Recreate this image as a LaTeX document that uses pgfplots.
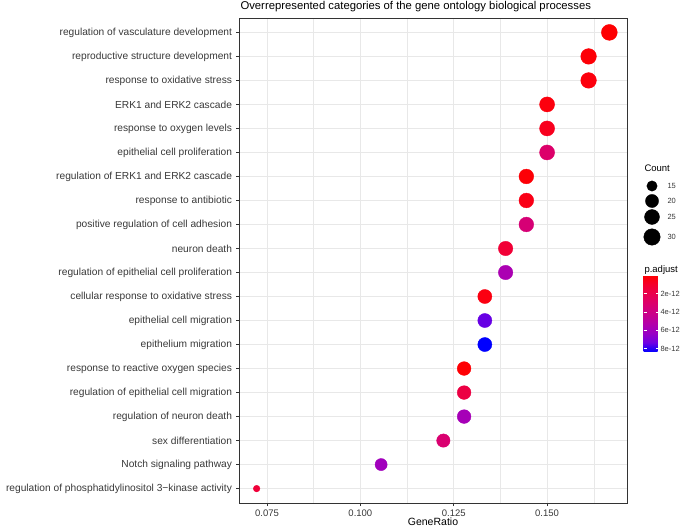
\documentclass[border=0pt]{standalone}
\usepackage{fontspec}
\setmainfont{Liberation Sans}
\usepackage{pgfplots}
\pgfplotsset{compat=1.18}
\usepackage{pgfplotstable}

\definecolor{gridc}{gray}{0.91}
\definecolor{axc}{gray}{0.2}
\definecolor{txt}{gray}{0.22}

\pgfplotstableread{
y ratio count padj
20 0.16667 30 0.05
19 0.16111 29 0.15
18 0.16111 29 0.3
17 0.15000 27 0.3
16 0.15000 27 0.7
15 0.15000 27 3.0
14 0.14444 26 0.15
13 0.14444 26 0.5
12 0.14444 26 3.4
11 0.13889 25 1.3
10 0.13889 25 5.6
9 0.13333 24 0.4
8 0.13333 24 7.4
7 0.13333 24 8.35
6 0.12778 23 0.1
5 0.12778 23 1.7
4 0.12778 23 5.8
3 0.12222 22 3.2
2 0.10556 19 6.0
1 0.07222 13 1.4
}\godata

\pgfplotstableread{
x y count
652 343 15
652 328 20
652 312 25
652 292 30
}\sizeleg

\pgfplotsset{
  colormap={gg}{rgb255=(255,0,0) rgb255=(244,0,45) rgb255=(232,0,80) rgb255=(218,0,110) rgb255=(202,0,137) rgb255=(180,0,168) rgb255=(154,0,195) rgb255=(113,0,226) rgb255=(0,0,255)}
}

\begin{document}
\begin{tikzpicture}
\useasboundingbox (0,0) rectangle (685bp,529bp);
\begin{axis}[
  at={(239bp,26bp)}, anchor=south west,
  scale only axis, width=388bp, height=485bp,
  xmin=0.0675, xmax=0.1714, ymin=0.4, ymax=20.6,
  xtick={0.075,0.1,0.125,0.15},
  xticklabels={0.075,0.100,0.125,0.150},
  minor xtick={0.0875,0.1125,0.1375,0.1625},
  ytick={1,...,20},
  yticklabels={
    regulation of phosphatidylinositol 3−kinase activity,
    Notch signaling pathway,
    sex differentiation,
    regulation of neuron death,
    regulation of epithelial cell migration,
    response to reactive oxygen species,
    epithelium migration,
    epithelial cell migration,
    cellular response to oxidative stress,
    regulation of epithelial cell proliferation,
    neuron death,
    positive regulation of cell adhesion,
    response to antibiotic,
    regulation of ERK1 and ERK2 cascade,
    epithelial cell proliferation,
    response to oxygen levels,
    ERK1 and ERK2 cascade,
    response to oxidative stress,
    reproductive structure development,
    regulation of vasculature development},
  grid=both,
  major grid style={gridc, line width=1.0bp},
  minor grid style={gridc, line width=0.5bp},
  axis line style={axc, line width=0.6bp},
  tick pos=left,
  tick align=outside,
  major tick length=3bp,
  minor tick length=0pt,
  tick style={axc, line width=0.6bp},
  yticklabel style={font=\fontsize{10.2bp}{12bp}\selectfont, text=txt, xshift=-0.5bp},
  xticklabel style={font=\fontsize{9.5bp}{11bp}\selectfont, text=txt},
  xlabel={GeneRatio},
  xlabel style={font=\fontsize{10.5bp}{12bp}\selectfont, yshift=5bp},
  colormap name=gg,
  point meta min=0, point meta max=8.35,
  colorbar,
  colorbar style={
    at={(parent axis.north east)}, anchor=north west,
    xshift=8bp, yshift=-257bp,
    scale only axis, width=15bp, height=77bp,
    y dir=reverse,
    ytick={2,4,6,8},
    yticklabels={2e-12,4e-12,6e-12,8e-12},
    yticklabel pos=right,
    ytick pos=both,
    tick align=inside,
    major tick length=3bp,
    tick style={white, line width=0.6bp},
    axis line style={draw=none},
    yticklabel style={font=\fontsize{7.5bp}{9bp}\selectfont, text=txt, xshift=-1.5bp},
  },
]
\addplot[scatter, only marks, mark=*,
  point meta=\thisrow{padj},
  scatter/use mapped color={draw=mapped color, fill=mapped color},
  visualization depends on={\thisrow{count} \as \cnt},
  scatter/@pre marker code/.append style={/tikz/mark size={3.33+4.65*sqrt((\cnt-13)/17)}}
] table[x=ratio, y=y] {\godata};
\end{axis}

\begin{axis}[
  at={(0bp,0bp)}, anchor=south west,
  scale only axis, width=685bp, height=529bp,
  xmin=0, xmax=685, ymin=0, ymax=529,
  hide axis, clip=false,
]
\addplot[scatter, only marks, mark=*,
  point meta=\thisrow{count},
  scatter/use mapped color={draw=black, fill=black},
  visualization depends on={\thisrow{count} \as \cnt},
  scatter/@pre marker code/.append style={/tikz/mark size={3.6+4.65*sqrt((\cnt-13)/17)}}
] table[x=x, y=y] {\sizeleg};
\end{axis}

\node[anchor=west, font=\fontsize{11.3bp}{13bp}\selectfont] at (237bp,522bp) {Overrepresented categories of the gene ontology biological processes};
\node[anchor=west, font=\fontsize{9.5bp}{11bp}\selectfont] at (641bp,361bp) {Count};
\foreach \yy/\lab in {343/15,328/20,312/25,292/30}
  \node[anchor=west, font=\fontsize{7.5bp}{9bp}\selectfont, text=txt] at (664bp,\yy bp) {\lab};
\node[anchor=west, font=\fontsize{9.5bp}{11bp}\selectfont] at (641bp,259bp) {p.adjust};
\end{tikzpicture}
\end{document}
